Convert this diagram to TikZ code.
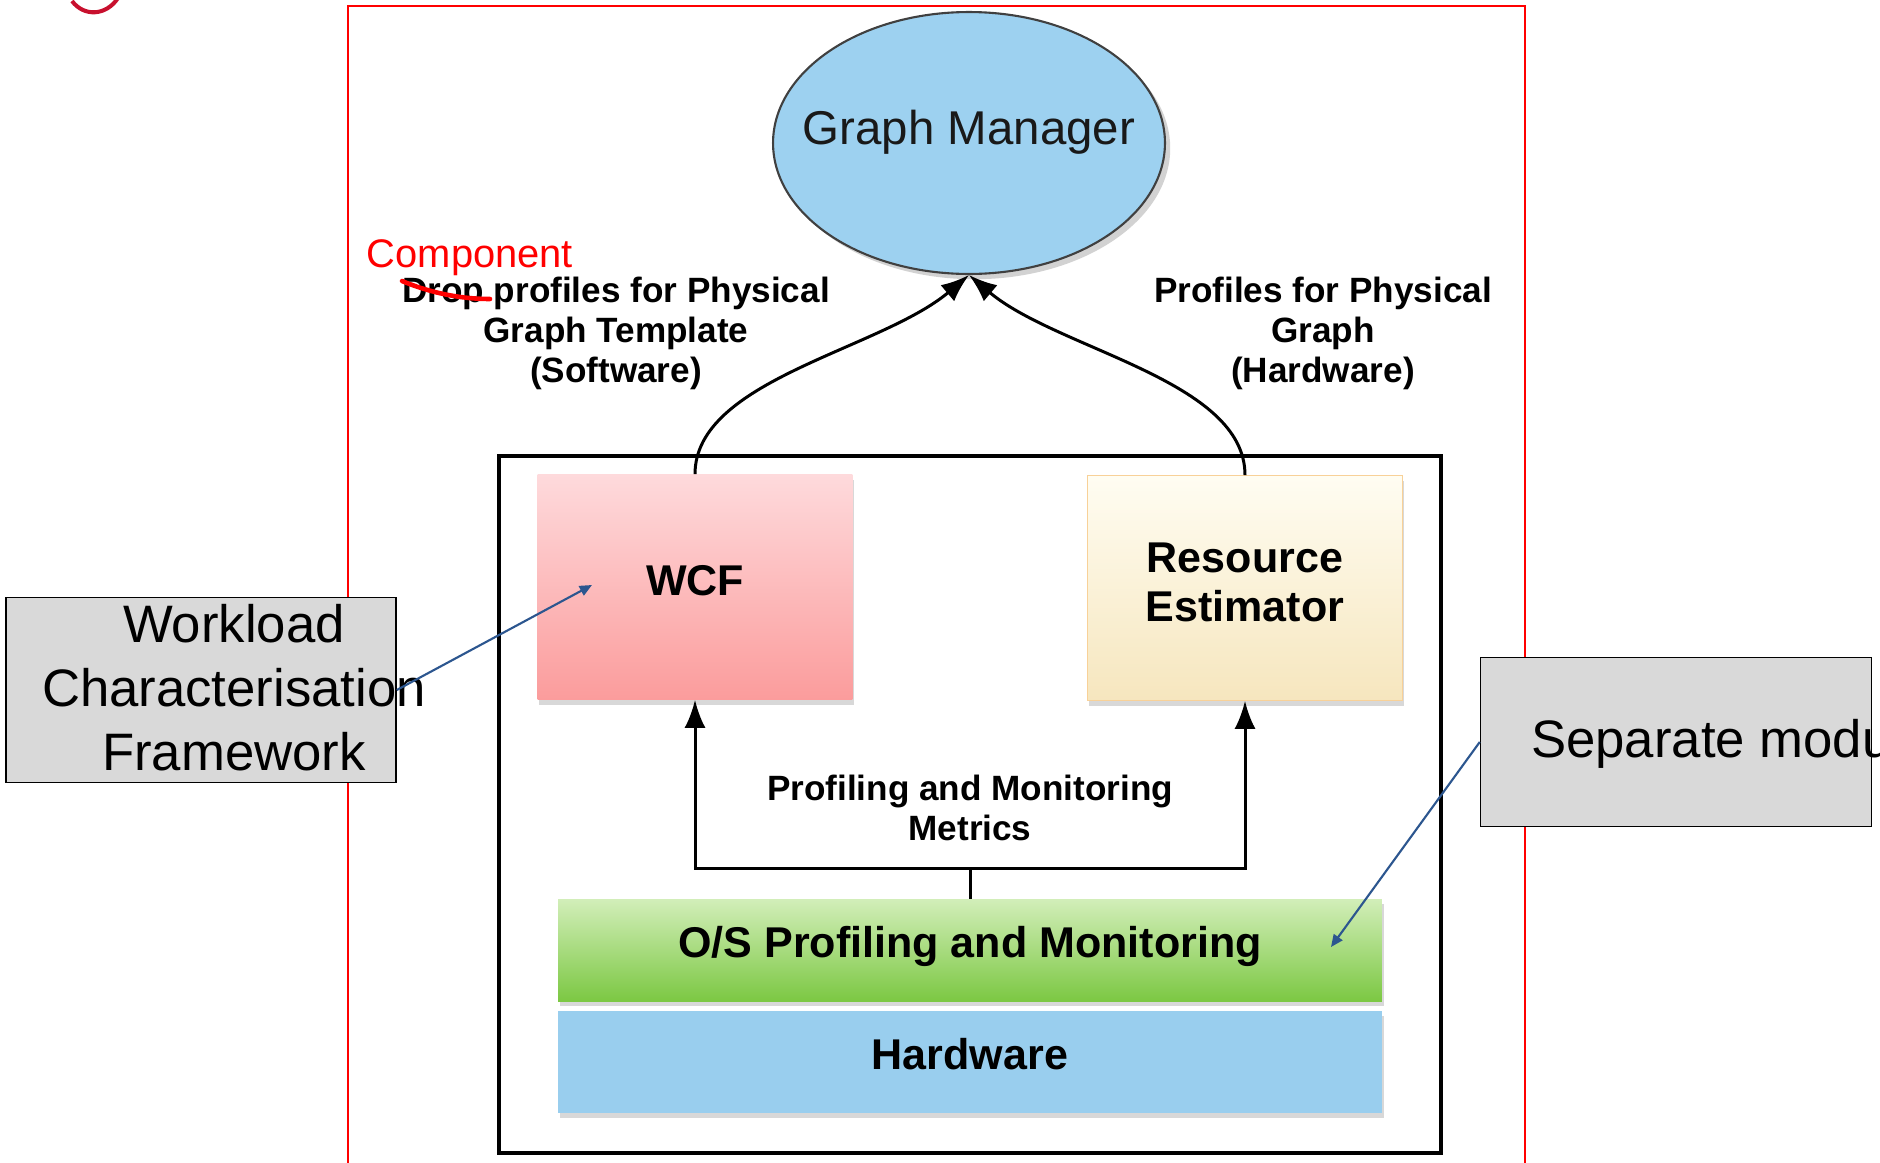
\documentclass[tikz,border=0pt]{standalone}
\usepackage{fontspec}
\setmainfont{Liberation Sans}
\usepackage{tikz}
\usepackage{xcolor}
\usetikzlibrary{shapes.geometric,shadows,arrows.meta}

\definecolor{gmblue}{HTML}{9DD1F0}
\definecolor{hwblue}{HTML}{99CEEE}
\definecolor{wcftop}{HTML}{FEDADC}
\definecolor{wcfbot}{HTML}{FB9C9C}
\definecolor{restop}{HTML}{FFFDF2}
\definecolor{resbot}{HTML}{F6E6BE}
\definecolor{ostop}{HTML}{D2EEB9}
\definecolor{osbot}{HTML}{7CC843}
\definecolor{notegray}{HTML}{D9D9D9}
\definecolor{noteblue}{HTML}{2C568F}
\definecolor{logored}{HTML}{C8102E}

\begin{document}
\begin{tikzpicture}%
  [x=0.02cm,y=-0.02cm,
   tip/.style={-{Latex[length=16pt,width=12pt]}},
   note tip/.style={-{Triangle[length=7pt,width=6pt]}}]
  \tikzstyle{box shadow}=[drop shadow={shadow xshift=1pt,shadow yshift=-3pt,opacity=.3}]
  \tikzstyle{mod node}=[rectangle,minimum width=6.3cm,minimum height=4.5cm,box shadow,
    font=\bfseries\fontsize{24.5}{28}\selectfont,align=center,text depth=7pt]
  \tikzstyle{layer node}=[rectangle,minimum width=16.48cm,minimum height=2.04cm,box shadow,
    font=\bfseries\fontsize{24.5}{28}\selectfont,text depth=9pt]
  \tikzstyle{note node}=[rectangle,draw=black,line width=0.9pt,fill=notegray]
  \tikzstyle{label node}=[align=center,font=\bfseries\fontsize{20}{22.8}\selectfont]
  \useasboundingbox (0,0) rectangle (1880,1163);
  \clip (0,0) rectangle (1880,1163);
  \fill[white] (0,0) rectangle (1880,1163);

  % logo remnant and frame
  \draw[logored,line width=2.3pt] (72,1) .. controls (84,17) and (106,16) .. (118,-2);
  \draw[red,line width=1.1pt] (348,1200) -- (348,6) -- (1525,6) -- (1525,1200);

  % graph manager
  \node(gm)[ellipse,draw=black!75,line width=1.2pt,fill=gmblue,minimum width=7.84cm,
    minimum height=5.24cm,inner sep=0,
    drop shadow={shadow xshift=3pt,shadow yshift=-3pt,opacity=.35}] at (969,143) {};
  \node(gmtext)[font=\fontsize{27}{30}\selectfont,text=black!90] at (969,132) {Graph Manager};

  % host
  \draw[line width=2pt] (499,456) rectangle (1441,1153);
  \node(wcf)[mod node,top color=wcftop,bottom color=wcfbot] at (695,587) {WCF};
  \node(res)[mod node,top color=restop,bottom color=resbot,draw=resbot!80!orange,line width=.4pt]
    at (1245,588) {Resource\\Estimator};
  \node(os)[layer node,top color=ostop,bottom color=osbot] at (970,950) {O/S Profiling and Monitoring};
  \node(hw)[layer node,fill=hwblue] at (970,1062) {Hardware};

  % metrics
  \coordinate(split) at (970,868);
  \draw[line width=1.7pt] (os.north) -- (split);
  \draw[line width=1.7pt,tip] (split) -| (wcf.south);
  \draw[line width=1.7pt,tip] (split) -| (res.south);
  \node(metrics)[label node] at (970,808) {Profiling and Monitoring\\Metrics};

  % profiles up to the manager
  \draw[line width=1.7pt,tip] (wcf.north) .. controls (695,380) and (880,350) .. (gm.south);
  \draw[line width=1.7pt,tip] (res.north) .. controls (1245,380) and (1058,350) .. (gm.south);
  \node(swlabel)[label node] at (616,333) {Drop profiles for Physical\\Graph Template\\(Software)};
  \node(hwlabel)[label node] at (1323,333) {Profiles for Physical\\Graph\\(Hardware)};
  \node(comp)[text=red,font=\fontsize{22.7}{26}\selectfont] at (470,258) {Component};
  \draw[red,line width=2.6pt,line cap=round] (402,281) .. controls (426,291) and (456,299) .. (490,299);

  % side notes
  \node(wcfnote)[note node,minimum width=7.8cm,minimum height=3.7cm] at (201,690) {};
  \node(wcfnotetext)[align=center,font=\fontsize{30}{36.4}\selectfont] at (234,688)
    {Workload\\Characterisation\\Framework};
  \node(sepnote)[note node,minimum width=7.82cm,minimum height=3.38cm] at (1676,742) {};
  \node(sepnotetext)[anchor=base west,font=\fontsize{30}{36}\selectfont] at (1525,757) {Separate module};
  \coordinate(wcfpt) at (592,585);
  \coordinate(ospt) at (1331,947);
  \draw[noteblue,line width=1.2pt,note tip] (wcfnote.east) -- (wcfpt);
  \draw[noteblue,line width=1.2pt,note tip] (sepnote.west) -- (ospt);
\end{tikzpicture}
\end{document}
